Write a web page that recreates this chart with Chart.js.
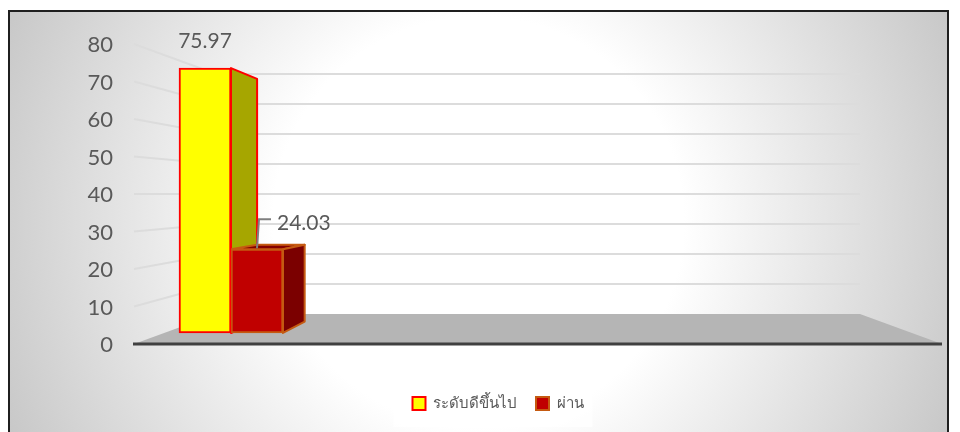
<!DOCTYPE html>
<html>
<head>
<meta charset="utf-8">
<title>chart</title>
<script src="https://cdn.jsdelivr.net/npm/chart.js@4"></script>
<style>
  html, body { margin: 0; padding: 0; background: #fff; }
  .frame {
    position: absolute; left: 8px; top: 10px; width: 941px; height: 424px;
    border: 2px solid #1f1f1f; box-sizing: border-box;
    background: radial-gradient(circle farthest-corner at 50% 50%, #fff 40%, #c8c8c8 100%);
  }
  canvas { position: absolute; left: 0; top: 0; }
</style>
</head>
<body>
<div class="frame"></div>
<canvas id="chart3d" width="960" height="432"></canvas>
<script>
// Data
const categories = ['', '', '', ''];
const goodValues = [75.97, null, null, null];
const passValues = [24.03, null, null, null];
const tickStep = 10;

const textColor = '#595959';
const fontName = 'Lato, "Noto Sans", sans-serif';

function depthPoint(chart, x, value) {
  const cx = (chart.chartArea.left + chart.chartArea.right + 32) / 2;
  const f = chart.scales.yFront.getPixelForValue(value);
  const b = chart.scales.yBack.getPixelForValue(value);
  return [x + (cx - x) * 0.085, f + (b - f) * 0.6];
}

function poly(ctx, pts, fill, stroke) {
  ctx.beginPath();
  pts.forEach((p, i) => i ? ctx.lineTo(p[0], p[1]) : ctx.moveTo(p[0], p[1]));
  ctx.closePath();
  ctx.fillStyle = fill;
  ctx.fill();
  if (stroke) {
    ctx.strokeStyle = stroke;
    ctx.lineWidth = 2;
    ctx.lineJoin = 'round';
    ctx.stroke();
  }
}

const wall3d = {
  id: 'wall3d',
  beforeDraw(chart) {
    // pale box behind the legend
    const boxes = chart.legend.legendHitBoxes;
    const ctx = chart.ctx;
    const l = boxes[0].left - 19;
    const last = boxes[boxes.length - 1];
    ctx.fillStyle = 'rgba(255,255,255,0.75)';
    ctx.fillRect(l, boxes[0].top - 16, last.left + last.width + 9 - l, last.height + 32);
  },
  beforeDatasetsDraw(chart) {
    const ctx = chart.ctx;
    const { left, right } = chart.chartArea;
    const y = chart.scales.y, back = chart.scales.yBack;
    const backL = left + 82, backR = right - 50, frontR = right + 32;
    ctx.save();

    // side wall and back wall lines
    ctx.lineWidth = 2;
    y.ticks.forEach(t => {
      if (t.value === 0) return;
      const by = back.getPixelForValue(t.value);
      ctx.strokeStyle = '#dcdcdc';
      ctx.beginPath();
      ctx.moveTo(left, y.getPixelForValue(t.value) - 1);
      ctx.lineTo(backL, by);
      ctx.lineTo(backR, by);
      ctx.stroke();
    });

    // floor
    const floorY = y.getPixelForValue(0) - 1;
    const backY = back.getPixelForValue(0);
    poly(ctx, [[left, floorY], [backL, backY], [backR, backY], [frontR, floorY]], '#b5b5b5');
    ctx.strokeStyle = '#404040';
    ctx.lineWidth = 3;
    ctx.beginPath();
    ctx.moveTo(left - 1, floorY);
    ctx.lineTo(frontR, floorY);
    ctx.stroke();

    // depth faces of the bars
    const g = chart.getDatasetMeta(0).data[0];
    const p = chart.getDatasetMeta(1).data[0];
    const gx = g.x + g.width / 2;
    poly(ctx, [[gx, g.y], depthPoint(chart, gx, goodValues[0]), depthPoint(chart, gx, 0), [gx, g.base]],
      '#a6a600', '#ff0000');

    const pl = p.x - p.width / 2, pr = p.x + p.width / 2;
    poly(ctx, [[pl, p.y], depthPoint(chart, pl, passValues[0]), depthPoint(chart, pr, passValues[0]), [pr, p.y]],
      '#840000', '#c55a11');
    poly(ctx, [[pr, p.y], depthPoint(chart, pr, passValues[0]), depthPoint(chart, pr, 0), [pr, p.base]],
      '#7b0000', '#c55a11');
    ctx.restore();
  },
  afterDatasetsDraw(chart) {
    const ctx = chart.ctx;
    const g = chart.getDatasetMeta(0).data[0];
    const p = chart.getDatasetMeta(1).data[0];
    ctx.save();

    // leader line of the second label
    ctx.strokeStyle = '#7f7f7f';
    ctx.lineWidth = 2;
    ctx.beginPath();
    ctx.moveTo(p.x, p.y - 1);
    ctx.lineTo(p.x + 2, p.y - 30);
    ctx.lineTo(p.x + 14, p.y - 30);
    ctx.stroke();

    ctx.fillStyle = textColor;
    ctx.font = '21px ' + fontName;
    ctx.textBaseline = 'middle';
    ctx.textAlign = 'center';
    ctx.fillText(goodValues[0].toFixed(2), g.x, g.y - 27);
    ctx.textAlign = 'left';
    ctx.fillText(passValues[0].toFixed(2), p.x + 20, p.y - 26);
    ctx.restore();
  }
};

new Chart(document.getElementById('chart3d'), {
  type: 'bar',
  data: {
    labels: categories,
    datasets: [
      {
        label: 'ระดับดีขึ้นไป',
        data: goodValues,
        yAxisID: 'yFront',
        backgroundColor: '#ffff00',
        borderColor: '#ff0000',
        borderWidth: 2,
        borderSkipped: false,
        barThickness: 52
      },
      {
        label: 'ผ่าน',
        data: passValues,
        yAxisID: 'yFront',
        backgroundColor: '#c00000',
        borderColor: '#c55a11',
        borderWidth: 2,
        borderSkipped: false,
        barThickness: 52
      }
    ]
  },
  options: {
    responsive: false,
    animation: false,
    layout: { padding: { left: 86, right: 50, top: 45, bottom: 11 } },
    plugins: {
      tooltip: { enabled: false },
      legend: {
        position: 'bottom',
        labels: {
          boxWidth: 13,
          boxHeight: 13,
          padding: 19,
          color: textColor,
          font: { size: 15, family: fontName }
        }
      }
    },
    scales: {
      x: {
        grid: { display: false },
        border: { display: false },
        ticks: { display: false },
        afterFit(scale) { scale.height = 32; }
      },
      y: {
        min: 0,
        max: 80,
        grid: { display: false, drawTicks: false },
        border: { display: false },
        ticks: {
          stepSize: tickStep,
          padding: 21,
          color: textColor,
          font: { size: 22, family: fontName }
        },
        afterFit(scale) { scale.width = 48; }
      },
      // the bars stand on a plane between the label axis and the back wall
      yFront: { display: false, min: -3.45, max: 82.6 },
      yBack: { display: false, min: -10.33, max: 89.67 }
    }
  },
  plugins: [wall3d]
});
</script>
</body>
</html>
